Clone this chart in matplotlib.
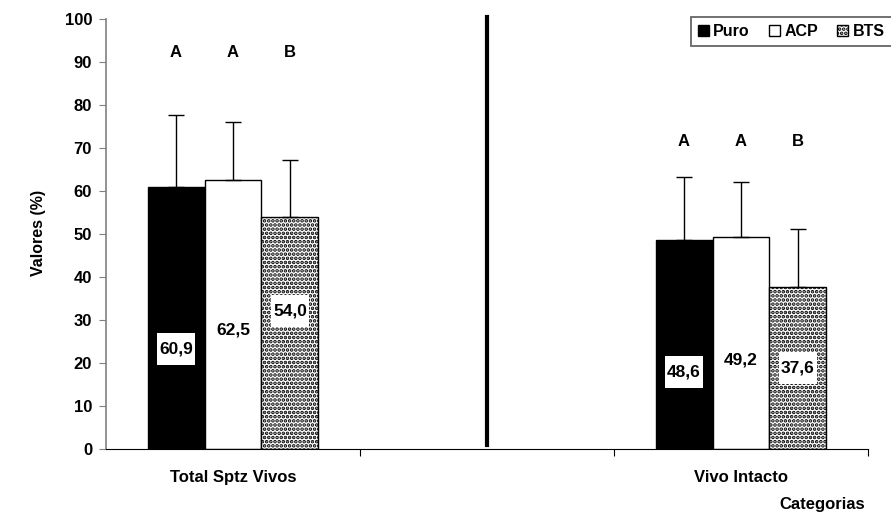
#Grafico de barras - viabilidade espermatica
import numpy as np
import matplotlib.pyplot as plt
from matplotlib.patches import Patch, Rectangle

plt.rcParams['font.family'] = ['Liberation Sans', 'DejaVu Sans']
plt.rcParams['font.weight'] = 'bold'
plt.rcParams['hatch.linewidth'] = 1.8

#Dados
categorias = ['Total Sptz Vivos', '', 'Vivo Intacto']
tratamentos = ['Puro', 'ACP', 'BTS']
medias_total = [60.9, 62.5, 54.0]
medias_intacto = [48.6, 49.2, 37.6]
dp_total = [16.8, 13.5, 13.2]
dp_intacto = [14.7, 12.9, 13.6]
letras_total = ['A', 'A', 'B']
letras_intacto = ['A', 'A', 'B']
rotulos_total = ['60,9', '62,5', '54,0']
rotulos_intacto = ['48,6', '49,2', '37,6']
# altura (em %) onde ficam os rotulos de valor
pos_rot_total = [23.3, 27.7, 32.1]
pos_rot_intacto = [17.9, 20.7, 18.8]

cores = ['black', 'white', 'white']
hachuras = [None, None, '....']
largura = 0.2244

fig = plt.figure(figsize=(8.91, 5.13), dpi=100)
ax = fig.add_axes([106/891, 1-449/513, 762/891, 430/513])

grupos = [(0, medias_total, dp_total, letras_total, rotulos_total, pos_rot_total, 92.3),
          (2, medias_intacto, dp_intacto, letras_intacto, rotulos_intacto, pos_rot_intacto, 71.4)]

for xc, medias, dps, letras, rotulos, pos_rot, y_letra in grupos:
    for i in range(3):
        x = xc + (i - 1) * largura
        ax.bar(x, medias[i], largura, color=cores[i], edgecolor='black',
               linewidth=1.0, hatch=hachuras[i], zorder=2)
        ax.errorbar(x, medias[i], yerr=[[0], [dps[i]]], color='black',
                    elinewidth=1.0, capsize=5.5, capthick=1.0, zorder=3)
        ax.text(x, y_letra, letras[i], ha='center', va='center', fontsize=12)
        # caixa branca atras do rotulo
        ax.add_patch(Rectangle((x - 0.075, pos_rot[i] - 3.7), 0.15, 7.4,
                               facecolor='white', edgecolor='none', zorder=4))
        ax.text(x, pos_rot[i], rotulos[i], ha='center', va='center', fontsize=12.5, zorder=5)

#linha divisoria
ax.plot([1, 1], [1, 100.5], color='black', linewidth=3, clip_on=False, zorder=3)

ax.set_xlim(-0.5, 2.5)
ax.set_ylim(0, 100)
ax.set_yticks(np.arange(0, 101, 10))
ax.set_xticks([0.5, 1.5, 2.5])
ax.set_xticklabels([])
ax.set_xticks([0, 2], minor=True)
ax.set_xticklabels([categorias[0], categorias[2]], minor=True)
ax.tick_params(axis='x', which='minor', length=0, pad=15, labelsize=12)
ax.tick_params(axis='x', which='major', length=5, direction='out', color='black')
ax.tick_params(axis='y', length=5, direction='out', color='#808080', labelsize=12, pad=5)

ax.spines['top'].set_visible(False)
ax.spines['right'].set_visible(False)
ax.spines['left'].set_color('#808080')
ax.spines['left'].set_linewidth(1.2)
ax.spines['bottom'].set_color('black')

fig.text(38/891, 1-233/513, 'Valores (%)', rotation=90, ha='center', va='center', fontsize=11.5)
fig.text(822/891, 1-505/513, 'Categorias', ha='center', va='center', fontsize=12)

handles = [Patch(facecolor=cores[i], edgecolor='black', hatch=hachuras[i], label=tratamentos[i])
           for i in range(3)]
leg = ax.legend(handles=handles, loc='upper left', bbox_to_anchor=(691/891, 1-17/513),
                bbox_transform=fig.transFigure, ncol=3, fontsize=11.5, frameon=True,
                fancybox=False, handlelength=0.7, handleheight=0.7, handletextpad=0.25,
                columnspacing=1.2, borderpad=0.45, borderaxespad=0)
leg.get_frame().set_edgecolor('#404040')
leg.get_frame().set_linewidth(1.3)

plt.savefig('out.png', dpi=100)
